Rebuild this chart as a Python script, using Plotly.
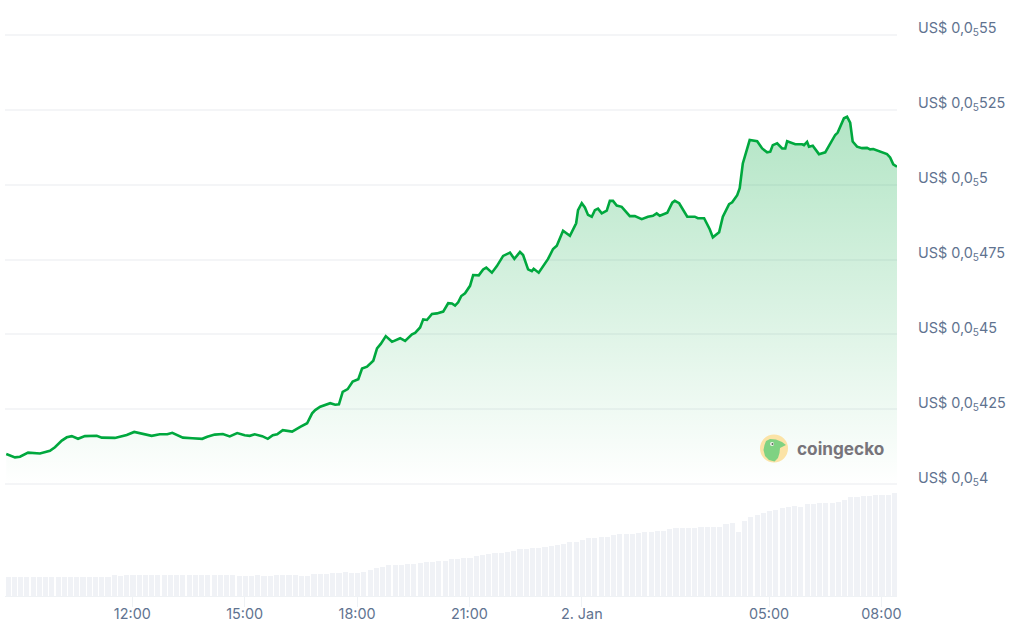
import pandas as pd
import plotly.graph_objects as go

# minutes after 1 Jan 08:36, price in US$ (x 1e-5)
line_minutes = [
    2, 16, 24, 37, 56, 72, 80, 91, 99, 107, 117, 128, 147, 155, 176, 195, 207, 221, 235, 248,
    260, 268, 285, 300, 316, 324, 336, 349, 360, 372, 384, 392, 400, 412, 421, 429, 436, 445, 460, 473,
    484, 492, 497, 505, 521, 529, 535, 541, 549, 557, 566, 572, 580, 590, 596, 602, 610, 620, 633, 641,
    652, 657, 665, 670, 676, 684, 692, 702, 710, 716, 721, 726, 731, 737, 745, 750, 759, 766, 771, 780,
    788, 798, 809, 816, 825, 830, 838, 844, 847, 855, 870, 878, 884, 894, 905, 915, 918, 924, 929, 934,
    940, 945, 950, 956, 964, 969, 974, 980, 988, 1001, 1009, 1020, 1030, 1038, 1044, 1049, 1061, 1069, 1073, 1080,
    1093, 1105, 1110, 1120, 1129, 1134, 1144, 1150, 1160, 1165, 1173, 1177, 1182, 1193, 1205, 1213, 1221, 1226, 1230, 1237,
    1245, 1250, 1253, 1266, 1277, 1280, 1285, 1288, 1294, 1304, 1314, 1330, 1334, 1344, 1349, 1354, 1358, 1365, 1373, 1381,
    1386, 1391, 1413, 1418, 1423, 1429,
]
line_price = [
    4.100, 4.089, 4.091, 4.105, 4.102, 4.111, 4.123, 4.145, 4.156, 4.160, 4.151, 4.160, 4.161, 4.155, 4.154, 4.164, 4.174, 4.167, 4.161, 4.166,
    4.166, 4.171, 4.155, 4.153, 4.151, 4.158, 4.165, 4.167, 4.159, 4.170, 4.163, 4.161, 4.166, 4.160, 4.151, 4.163, 4.166, 4.180, 4.175, 4.191,
    4.203, 4.236, 4.247, 4.258, 4.270, 4.265, 4.266, 4.308, 4.317, 4.342, 4.350, 4.386, 4.392, 4.412, 4.453, 4.468, 4.494, 4.475, 4.487, 4.478,
    4.500, 4.505, 4.523, 4.550, 4.548, 4.568, 4.570, 4.576, 4.604, 4.603, 4.596, 4.607, 4.628, 4.637, 4.662, 4.698, 4.697, 4.717, 4.723, 4.706,
    4.728, 4.762, 4.773, 4.752, 4.775, 4.765, 4.717, 4.711, 4.719, 4.706, 4.752, 4.785, 4.796, 4.846, 4.829, 4.871, 4.915, 4.938, 4.924, 4.899,
    4.893, 4.915, 4.920, 4.904, 4.913, 4.946, 4.946, 4.930, 4.926, 4.895, 4.895, 4.885, 4.893, 4.896, 4.904, 4.896, 4.906, 4.940, 4.946, 4.938,
    4.893, 4.893, 4.888, 4.888, 4.851, 4.824, 4.841, 4.893, 4.935, 4.941, 4.965, 4.988, 5.071, 5.149, 5.145, 5.121, 5.108, 5.110, 5.132, 5.138,
    5.121, 5.121, 5.145, 5.135, 5.135, 5.132, 5.143, 5.127, 5.130, 5.102, 5.108, 5.166, 5.174, 5.222, 5.227, 5.207, 5.144, 5.127, 5.122, 5.123,
    5.118, 5.119, 5.102, 5.091, 5.068, 5.060,
]

# one bar every 10 minutes
volume = [
    187, 193, 193, 193, 193, 193, 193, 193, 193, 193, 193, 193, 193, 193, 193, 193, 193,
    207, 200, 207, 207, 207, 207, 207, 207, 207, 207, 207, 207, 207, 207, 207, 207, 207, 207, 207, 207, 200, 203, 203, 207,
    200, 197, 207, 207, 207, 207,
    203, 203, 217, 217, 223, 230, 230, 237, 227, 230, 243, 260, 277, 287, 307, 307, 307, 317, 317, 327, 340, 340, 353, 350,
    367, 367, 377, 380, 403, 410, 420, 427, 430, 437, 450, 467, 470, 480, 480, 490, 503, 510, 523, 537, 540, 563, 577, 580,
    593, 593, 607, 617, 617, 623, 630, 640, 640, 653, 653, 667, 680, 680, 680, 680, 690, 693, 690, 693, 717, 727, 643, 750,
    787, 813, 830, 850, 863, 880, 887, 903, 890, 917, 917, 930, 930, 933, 940, 963, 987, 990, 1003, 1003, 1010, 1007, 1013, 1027, 1027,
]

price_ticks = [5.5, 5.25, 5.0, 4.75, 4.5, 4.25, 4.0]
price_labels = ["55", "525", "5", "475", "45", "425", "4"]
time_ticks = ["2024-01-01 12:00", "2024-01-01 15:00", "2024-01-01 18:00", "2024-01-01 21:00",
              "2024-01-02 00:00", "2024-01-02 05:00", "2024-01-02 08:00"]
time_labels = ["12:00", "15:00", "18:00", "21:00", "2. Jan", "05:00", "08:00"]

W, H = 1013, 638
TEXT = "#5f7390"
FONT = "Inter"


def px(x):
    return x / W


def py(y):
    return 1 - y / H


def path(points):
    return "M " + " L ".join(f"{px(a):.4f},{py(b):.4f}" for a, b in points) + " Z"


start = pd.Timestamp("2024-01-01 08:36")
line_x = [start + pd.Timedelta(minutes=m) for m in line_minutes]
bar_x = [start + pd.Timedelta(minutes=5 + 10 * i) for i in range(len(volume))]

fig = go.Figure()

fig.add_trace(go.Bar(
    x=bar_x, y=volume, yaxis="y2", width=8.2 * 60000,
    marker=dict(color="#f0f2f6", line=dict(width=0)),
))
fig.add_trace(go.Scatter(
    x=line_x, y=line_price, mode="lines", fill="tozeroy",
    line=dict(color="#00a83e", width=2.6),
    fillgradient=dict(
        type="vertical", start=4.0, stop=5.227,
        colorscale=[[0, "rgba(0,168,62,0)"], [1, "rgba(0,168,62,0.30)"]],
    ),
))

for tick, label in zip(price_ticks, price_labels):
    fig.add_annotation(
        text=f"US$ 0,0<sub>5</sub>{label}", xref="paper", yref="y", x=px(916), y=tick,
        xanchor="left", yanchor="middle", yshift=6, showarrow=False,
        font=dict(family=FONT, size=14.4, color=TEXT),
    )

# coingecko mark
fig.add_shape(type="circle", xref="paper", yref="paper", x0=px(760), x1=px(788), y0=py(462.5), y1=py(434.5),
              fillcolor="#fbe3a6", line_width=0)
fig.add_shape(type="path", xref="paper", yref="paper", fillcolor="#7fd282", line_width=0,
              path=path([(766, 441), (770, 439), (776, 439.5), (782, 442), (786, 445), (780, 448), (779.5, 453),
                         (778, 458), (774.5, 461.5), (769, 460), (765, 456), (763.5, 450), (764.5, 445)]))
fig.add_shape(type="circle", xref="paper", yref="paper", x0=px(770), x1=px(774), y0=py(446), y1=py(442),
              fillcolor="#f4f4ef", line_width=0)
fig.add_shape(type="circle", xref="paper", yref="paper", x0=px(771.5), x1=px(773.5), y0=py(445), y1=py(443),
              fillcolor="#5b6b5b", line_width=0)
fig.add_annotation(
    text="<b>coingecko</b>", xref="paper", yref="paper", x=px(795), y=py(448),
    xanchor="left", yanchor="middle", showarrow=False,
    font=dict(family="Inter", size=17.2, color="#77747a"),
)

fig.update_layout(
    width=W, height=H,
    margin=dict(l=0, r=0, t=0, b=0, autoexpand=False),
    paper_bgcolor="white", plot_bgcolor="rgba(0,0,0,0)",
    showlegend=False, bargap=0,
    xaxis=dict(
        domain=[px(5), px(897)], anchor="y2",
        range=[start, start + pd.Timedelta(minutes=1429)],
        tickmode="array", tickvals=time_ticks, ticktext=time_labels,
        ticks="outside", ticklen=10, tickcolor="#eff2f5", tickwidth=1,
        ticklabelstandoff=-5,
        tickfont=dict(family=FONT, size=14.4, color=TEXT),
        showgrid=False, showline=True, linecolor="#eff2f5", zeroline=False,
    ),
    # range runs a little past the outer ticks, plotly drops gridlines on the very edge
    yaxis=dict(
        domain=[py(490), py(29)], range=[3.98, 5.52], anchor="x",
        tickmode="array", tickvals=price_ticks, showticklabels=False,
        showgrid=True, gridcolor="#f4f5f7", gridwidth=1.5, zeroline=False,
    ),
    yaxis2=dict(
        domain=[py(596), py(484)], range=[0, 1120], anchor="x",
        showticklabels=False, showgrid=False, zeroline=False,
    ),
)

fig.write_html("out.html", config={"displayModeBar": False}, post_script="document.body.style.margin='0';")
